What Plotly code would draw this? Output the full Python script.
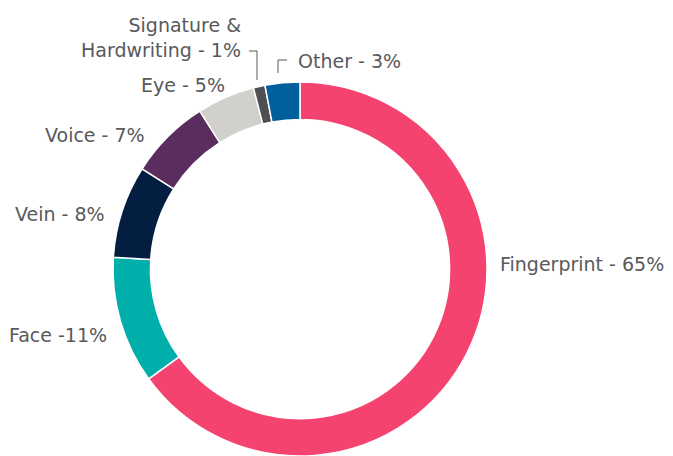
import plotly.graph_objects as go

categories = ["Fingerprint", "Face", "Vein", "Voice", "Eye", "Signature & Hardwriting", "Other"]
values = [65, 11, 8, 7, 5, 1, 3]
label_texts = ["Fingerprint - 65%", "Face -11%", "Vein - 8%", "Voice - 7%", "Eye - 5%",
               "Signature &<br>Hardwriting - 1%", "Other - 3%"]
colors = ["#F4436F", "#00AFAA", "#041E42", "#5B2C5E", "#D1D0CC", "#4D4F53", "#00609C"]

W, H = 673, 456
OFF = 8  # page body margin in the browser
# label placement in window pixels (x, y, anchor)
label_pos = [(498, 264, "left"), (109, 335, "right"), (107, 214, "right"),
             (147, 135, "right"), (227, 85, "right"), (243, 38, "right"), (296, 61, "left")]

def P(x, y):
    return (x - OFF) / W, 1 - (y - OFF) / H

cx, cy, R = 300, 269, 187
x0, y_top = P(cx - R, cy - R)
x1, y_bot = P(cx + R, cy + R)

fig = go.Figure(go.Pie(
    labels=categories, values=values, sort=False, direction="clockwise", rotation=0,
    hole=0.8, marker=dict(colors=colors, line=dict(color="white", width=1.5)),
    textinfo="none", hoverinfo="label+percent", showlegend=False,
    domain=dict(x=[x0, x1], y=[y_bot, y_top]),
))

for txt, (px, py, anc) in zip(label_texts, label_pos):
    ax, ay = P(px, py)
    fig.add_annotation(x=ax, y=ay, xref="paper", yref="paper", text=txt,
                       showarrow=False, xanchor=anc, yanchor="middle", align="right",
                       font=dict(family="DejaVu Sans", size=19, color="#58595B"))

lines = [[(249, 51), (257, 51), (257, 80)], [(278, 73), (278, 60), (287, 60)]]
for pts in lines:
    path = "M " + " L ".join(f"{P(*p)[0]},{P(*p)[1]}" for p in pts)
    fig.add_shape(type="path", path=path, xref="paper", yref="paper",
                  line=dict(color="#58595B", width=1))

fig.update_layout(width=W, height=H, margin=dict(l=0, r=0, t=0, b=0),
                  paper_bgcolor="white", plot_bgcolor="white")
fig.write_html("out.html")
